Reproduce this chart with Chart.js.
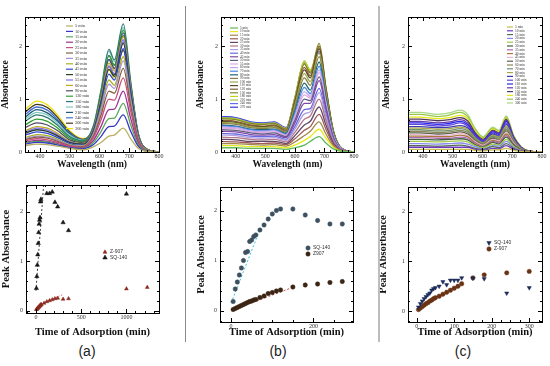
<!DOCTYPE html>
<html lang="en">
<head>
<meta charset="UTF-8">
<title>Absorbance spectra and peak absorbance vs time</title>
<script src="https://cdn.jsdelivr.net/npm/chart.js"></script>
<style>
  body { margin: 0; background: #fff; }
  #fig { position: relative; width: 550px; height: 366px; overflow: hidden; }
  #fig canvas { position: absolute; }
  .sep { position: absolute; top: 6px; height: 336px; }
  .lab { position: absolute; top: 343px; width: 40px; margin-left: -20px; text-align: center;
         font: 14px "Liberation Sans", Arial, sans-serif; color: #222; }
</style>
</head>
<body>
<div id="fig">
  <canvas id="ta" style="left:0;top:0" width="180" height="170"></canvas>
  <canvas id="tb" style="left:195px;top:0" width="175" height="170"></canvas>
  <canvas id="tc" style="left:381px;top:0" width="169" height="170"></canvas>
  <canvas id="ba" style="left:0;top:172px" width="180" height="167"></canvas>
  <canvas id="bb" style="left:195px;top:172px" width="175" height="167"></canvas>
  <canvas id="bc" style="left:377px;top:172px" width="173" height="167"></canvas>
  <div class="sep" style="left:185px;width:1px;background:#8a8a8a"></div>
  <div class="sep" style="left:378px;width:2px;background:#bdbdbd"></div>
  <div class="lab" style="left:87px">(a)</div>
  <div class="lab" style="left:278px">(b)</div>
  <div class="lab" style="left:463px">(c)</div>
</div>
<script>
// ---- spectra (a) ----
const wlA = [350, 390, 425, 460, 500, 545, 580, 605, 632, 650, 680, 705, 730, 760, 800];
const timeA = ['5 min', '10 min', '15 min', '20 min', '25 min', '30 min', '35 min', '40 min', '45 min', '50 min',
  '55 min', '60 min', '90 min', '120 min', '150 min', '180 min', '210 min', '240 min', '300 min', '360 min'];
const absA = [
  [.12, .15, .14, .11, .07, .04, .10, .18, .30, .32, .45, .25, .07, .01, 0],
  [.15, .18, .17, .13, .08, .06, .14, .29, .48, .49, .70, .39, .11, .01, 0],
  [.17, .20, .19, .14, .08, .07, .18, .38, .63, .64, .92, .51, .14, .02, 0],
  [.18, .22, .20, .16, .09, .08, .22, .48, .80, .81, 1.15, .63, .17, .02, 0],
  [.21, .25, .23, .18, .11, .09, .27, .60, 1.0, .98, 1.40, .77, .21, .03, 0],
  [.23, .28, .26, .20, .12, .10, .30, .69, 1.15, 1.11, 1.58, .87, .24, .03, 0],
  [.25, .30, .28, .22, .13, .11, .33, .77, 1.28, 1.20, 1.72, .95, .26, .03, 0],
  [.27, .33, .31, .24, .14, .12, .35, .82, 1.36, 1.26, 1.80, .99, .27, .04, 0],
  [.32, .38, .35, .27, .16, .13, .38, .88, 1.47, 1.36, 1.95, 1.07, .29, .04, 0],
  [.35, .42, .39, .30, .18, .15, .40, .94, 1.56, 1.43, 2.05, 1.13, .31, .04, 0],
  [.37, .45, .42, .32, .19, .15, .42, .97, 1.62, 1.48, 2.12, 1.17, .32, .04, 0],
  [.40, .48, .45, .35, .20, .16, .43, 1.01, 1.68, 1.53, 2.18, 1.20, .33, .04, 0],
  [.46, .55, .51, .40, .23, .18, .45, 1.05, 1.75, 1.58, 2.25, 1.24, .34, .05, 0],
  [.51, .62, .58, .45, .26, .19, .47, 1.09, 1.82, 1.64, 2.30, 1.27, .35, .05, 0],
  [.58, .70, .65, .50, .29, .21, .50, 1.16, 1.94, 1.74, 2.42, 1.33, .36, .05, 0],
  [.62, .75, .70, .54, .32, .22, .49, 1.14, 1.90, 1.71, 2.35, 1.29, .35, .05, 0],
  [.66, .80, .74, .58, .34, .22, .47, 1.09, 1.82, 1.64, 2.20, 1.21, .33, .04, 0],
  [.71, .85, .79, .61, .36, .23, .46, 1.04, 1.74, 1.57, 2.08, 1.14, .31, .04, 0],
  [.75, .90, .84, .65, .38, .24, .44, .97, 1.62, 1.46, 1.92, 1.06, .29, .04, 0],
  [.80, .96, .89, .69, .40, .25, .42, .93, 1.55, 1.40, 1.80, .99, .27, .04, 0]
];

// ---- spectra (b) ----
const wlB = [350, 400, 450, 490, 530, 570, 600, 632, 652, 682, 705, 730, 760, 800];
const timeB = ['5 min', '10 min', '15 min', '20 min', '25 min', '30 min', '35 min', '40 min', '45 min', '50 min',
  '55 min', '60 min', '70 min', '80 min', '90 min', '100 min', '110 min', '120 min', '150 min', '180 min',
  '210 min', '240 min', '270 min'];
const absB = [
  [.08, .08, .07, .07, .07, .05, .08, .13, .20, .29, .17, .06, .01, 0],
  [.12, .12, .10, .10, .10, .08, .13, .22, .29, .43, .26, .09, .01, 0],
  [.16, .16, .14, .13, .14, .11, .19, .31, .39, .57, .34, .11, .02, 0],
  [.20, .19, .17, .16, .17, .14, .25, .41, .48, .71, .43, .14, .02, 0],
  [.24, .23, .20, .20, .20, .16, .31, .51, .58, .85, .51, .17, .03, 0],
  [.28, .27, .24, .23, .24, .19, .37, .62, .68, 1.0, .60, .20, .03, 0],
  [.32, .31, .27, .26, .27, .22, .43, .72, .76, 1.12, .67, .22, .03, 0],
  [.35, .34, .30, .29, .30, .24, .48, .80, .82, 1.20, .72, .24, .04, 0],
  [.39, .38, .33, .32, .33, .27, .55, .92, .92, 1.35, .81, .27, .04, 0],
  [.42, .41, .36, .34, .36, .29, .60, 1.0, .97, 1.42, .85, .28, .04, 0],
  [.45, .44, .38, .37, .38, .31, .65, 1.08, 1.02, 1.50, .90, .30, .05, 0],
  [.47, .46, .40, .39, .40, .32, .68, 1.14, 1.05, 1.55, .93, .31, .05, 0],
  [.49, .48, .42, .40, .42, .33, .73, 1.22, 1.10, 1.62, .97, .32, .05, 0],
  [.51, .49, .43, .42, .43, .35, .78, 1.30, 1.17, 1.70, 1.02, .34, .05, 0],
  [.54, .52, .46, .44, .46, .37, .84, 1.40, 1.26, 1.80, 1.08, .36, .05, 0],
  [.56, .54, .48, .46, .48, .38, .89, 1.48, 1.33, 1.88, 1.13, .38, .06, 0],
  [.58, .56, .49, .48, .49, .39, .93, 1.55, 1.40, 1.95, 1.17, .39, .06, 0],
  [.60, .58, .51, .49, .51, .41, .96, 1.60, 1.44, 2.0, 1.20, .40, .06, 0],
  [.63, .61, .54, .52, .54, .43, 1.0, 1.66, 1.49, 2.05, 1.23, .41, .06, 0],
  [.64, .62, .54, .52, .54, .44, 1.02, 1.70, 1.53, 2.0, 1.20, .40, .06, 0],
  [.65, .63, .55, .53, .55, .44, 1.03, 1.72, 1.55, 1.97, 1.18, .39, .06, 0],
  [.66, .64, .56, .54, .56, .45, 1.01, 1.68, 1.51, 1.90, 1.14, .38, .06, 0],
  [.67, .65, .57, .55, .57, .46, 1.02, 1.70, 1.53, 1.88, 1.13, .38, .06, 0]
];

// ---- spectra (c) ----
const wlC = [350, 390, 450, 490, 525, 550, 575, 602, 635, 655, 680, 705, 730, 760, 800];
const timeC = ['5 min', '10 min', '15 min', '20 min', '25 min', '30 min', '35 min', '40 min', '45 min', '50 min',
  '60 min', '70 min', '80 min', '90 min', '100 min', '110 min', '120 min', '150 min', '180 min', '240 min', '300 min'];
const absC = [
  [.05, .05, .05, .05, .05, .05, .03, .02, .04, .04, .07, .03, .01, 0, 0],
  [.09, .09, .09, .09, .09, .09, .05, .03, .07, .06, .12, .05, .02, 0, 0],
  [.12, .12, .11, .12, .13, .11, .07, .05, .10, .08, .16, .07, .02, 0, 0],
  [.16, .16, .15, .16, .17, .15, .10, .06, .12, .11, .20, .09, .03, 0, 0],
  [.20, .20, .19, .20, .21, .19, .12, .08, .15, .13, .24, .11, .03, 0, 0],
  [.24, .24, .23, .24, .25, .23, .14, .09, .18, .15, .28, .13, .04, .01, 0],
  [.27, .27, .26, .26, .28, .26, .16, .10, .20, .17, .31, .14, .04, .01, 0],
  [.30, .30, .29, .29, .32, .29, .18, .11, .22, .19, .34, .15, .05, .01, 0],
  [.33, .33, .31, .32, .35, .31, .20, .13, .24, .21, .37, .17, .05, .01, 0],
  [.36, .36, .34, .35, .38, .34, .22, .14, .26, .22, .40, .18, .06, .01, 0],
  [.39, .39, .37, .38, .41, .37, .23, .15, .28, .24, .43, .19, .06, .01, 0],
  [.42, .42, .40, .41, .44, .40, .25, .16, .30, .26, .46, .21, .06, .01, 0],
  [.45, .45, .43, .44, .47, .43, .27, .17, .32, .28, .49, .22, .07, .01, 0],
  [.48, .48, .46, .47, .50, .46, .29, .18, .34, .29, .52, .23, .07, .01, 0],
  [.52, .52, .49, .51, .55, .49, .31, .20, .36, .31, .55, .25, .08, .01, 0],
  [.55, .55, .52, .54, .58, .52, .33, .21, .38, .33, .58, .26, .08, .01, 0],
  [.58, .58, .55, .57, .61, .55, .35, .22, .40, .35, .60, .27, .08, .01, 0],
  [.62, .62, .59, .61, .65, .59, .37, .24, .41, .36, .62, .28, .09, .01, 0],
  [.66, .66, .63, .65, .69, .63, .40, .25, .43, .38, .64, .29, .09, .01, 0],
  [.71, .71, .67, .70, .75, .67, .43, .27, .45, .39, .66, .30, .09, .01, 0],
  [.75, .75, .71, .74, .79, .71, .45, .29, .47, .41, .68, .31, .10, .01, 0]
];

// ---- peak absorbance vs time ----
const tSqA = [5, 10, 15, 20, 25, 30, 35, 40, 45, 50, 55, 120, 150, 180, 210, 240, 300, 360, 1000];
const sqA = [.45, .69, .92, 1.13, 1.36, 1.58, 1.75, 1.83, 1.88, 2.2, 2.25, 2.37, 2.37, 2.4, 2.19, 2.1, 1.78, 1.62, 2.36];
const tZA = [5, 10, 15, 20, 25, 30, 35, 40, 45, 50, 55, 60, 90, 120, 150, 180, 210, 240, 300, 360, 1000, 1230];
const zA = [.02, .03, .04, .05, .06, .07, .08, .09, .10, .11, .12, .12, .15, .18, .20, .22, .24, .25, .23, .24, .44, .47];
const fitSqAt = [0, 85], fitSqAv = [.4, 2.55];
const fitZAt = [0, 50, 100, 200, 310], fitZAv = [0, .1, .16, .25, .33];

const tB = [5, 10, 15, 20, 25, 30, 35, 40, 45, 50, 55, 60, 70, 80, 90, 100, 110, 120, 150, 180, 210, 240, 270];
const sqB = [.18, .43, .57, .71, .85, 1.0, 1.16, 1.18, 1.38, 1.41, 1.48, 1.51, 1.61, 1.71, 1.83, 1.93, 2.0, 2.03, 2.03, 1.91, 1.8, 1.73, 1.73];
const zB = [.02, .04, .06, .08, .1, .12, .14, .16, .18, .19, .21, .22, .26, .29, .34, .36, .39, .41, .47, .51, .53, .56, .58];
const fitSqBt = [0, 70], fitSqBv = [.15, 1.62];
const fitZBt = [0, 155], fitZBv = [0, .48];

const tC = [5, 10, 15, 20, 25, 30, 35, 40, 45, 50, 60, 70, 80, 90, 100, 110, 120, 150, 180, 240, 300];
const sqC = [.08, .15, .2, .25, .29, .33, .36, .42, .45, .47, .5, .59, .53, .62, .62, .62, .67, .66, .65, .36, .47];
const zC = [.03, .06, .09, .12, .15, .17, .2, .22, .25, .27, .3, .34, .38, .42, .46, .5, .55, .67, .73, .77, .8];
const fitSqCt = [3, 42], fitSqCv = [.05, .46];
const fitZCt = [3, 125], fitZCv = [.02, .6];

// tick labels
const wlTicks = [400, 500, 600, 700, 800];
const absTicks = [0, 1, 2];
const timeTicksA = [0, 500, 1000];
const timeTicksB = [0, 200];
const timeTicksC = [0, 100, 200, 300];

// line colours
const palA = ['#b8b060', '#3838c8', '#58a858', '#a03090', '#c85078', '#806040', '#a890d8', '#a8b020', '#3048d0', '#284028',
  '#8070f0', '#c0a820', '#505060', '#30a030', '#2f7a70', '#80c8c0', '#205878', '#4870d0', '#403818', '#f0e010'];
const palB = ['#60b860', '#e8e820', '#a08848', '#a05858', '#604868', '#b07888', '#b0a0e0', '#6868e0', '#8048a8', '#606080',
  '#e0a8e0', '#c0a8f0', '#4888e0', '#206878', '#888048', '#a0a848', '#604828', '#886038', '#808828', '#c8d020',
  '#a0c848', '#6070e8', '#3838d8'];
const palC = ['#c8c048', '#7038c0', '#507050', '#8888f0', '#a0c848', '#406040', '#b068b0', '#a87838', '#e8b8d8', '#606048',
  '#888858', '#709070', '#a8a848', '#4038b0', '#6048d8', '#2828f0', '#6838a8', '#503860', '#e8e818', '#98c848', '#a8d888'];

const serif = '"Liberation Serif", "Times New Roman", serif';
const sans = '"Liberation Sans", Arial, sans-serif';

// box with inward ticks on all four sides
const frame = {
  id: 'frame',
  afterDraw(chart, args, o) {
    const { ctx, chartArea: c, scales } = chart;
    ctx.save();
    ctx.strokeStyle = '#000';
    ctx.lineWidth = 1;
    ctx.beginPath();
    for (const id of ['x', 'y']) {
      const s = scales[id];
      const put = (v, len) => {
        const p = Math.round(s.getPixelForValue(v)) + 0.5;
        if (id === 'x') {
          ctx.moveTo(p, c.bottom); ctx.lineTo(p, c.bottom - len);
          ctx.moveTo(p, c.top); ctx.lineTo(p, c.top + len);
        } else {
          ctx.moveTo(c.left, p); ctx.lineTo(c.left + len, p);
          ctx.moveTo(c.right, p); ctx.lineTo(c.right - len, p);
        }
      };
      const step = o[id];
      for (let k = Math.ceil(s.min / step); k * step <= s.max + 1e-9; k++) put(k * step, 2);
      s.ticks.forEach(t => put(t.value, 4));
    }
    ctx.stroke();
    ctx.strokeRect(Math.round(c.left) + 0.5, Math.round(c.top) + 0.5, Math.round(c.width), Math.round(c.height));
    ctx.restore();
  }
};

function marker(ctx, d, x, y) {
  const r = d.pointRadius;
  ctx.fillStyle = d.backgroundColor;
  ctx.strokeStyle = d.borderColor;
  ctx.lineWidth = 0.5;
  ctx.beginPath();
  if (d.pointStyle === 'triangle') {
    const s = d.rotation ? -1 : 1;
    ctx.moveTo(x, y - s * r);
    ctx.lineTo(x + r * 0.9, y + s * r * 0.6);
    ctx.lineTo(x - r * 0.9, y + s * r * 0.6);
    ctx.closePath();
  } else {
    ctx.arc(x, y, r, 0, Math.PI * 2);
  }
  ctx.fill();
  ctx.stroke();
}

// small legend drawn inside the plot
const key = {
  id: 'key',
  afterDatasetsDraw(chart, args, o) {
    const ctx = chart.ctx;
    ctx.save();
    ctx.font = o.size + 'px ' + o.family;
    ctx.textBaseline = 'middle';
    let row = 0;
    chart.data.datasets.forEach(d => {
      if (!d.label) return;
      const y = o.y + row * o.dy;
      row++;
      if (o.line) {
        ctx.strokeStyle = d.borderColor;
        ctx.lineWidth = 1.2;
        ctx.beginPath();
        ctx.moveTo(o.x, y);
        ctx.lineTo(o.x + o.line, y);
        ctx.stroke();
      } else {
        marker(ctx, d, o.x, y);
      }
      ctx.fillStyle = o.color;
      ctx.fillText(d.label, o.x + o.gap, y);
    });
    ctx.restore();
  }
};

function axis(s, fit) {
  return {
    type: 'linear', min: s.min, max: s.max,
    afterBuildTicks: sc => { sc.ticks = s.ticks.map(v => ({ value: v })); },
    afterFit: fit,
    grid: { display: false, drawTicks: false, tickLength: 0 },
    border: { display: false },
    ticks: { padding: s.pad, color: '#333', autoSkip: false, maxRotation: 0,
             font: { family: serif, size: 6 }, callback: v => String(v) },
    title: { display: true, text: s.title, color: '#111', padding: s.tpad,
             font: { family: serif, size: s.size, weight: 'bold' } }
  };
}

function options(g, xs, ys, k) {
  return {
    responsive: false, animation: false, events: [],
    layout: { padding: { left: 0, top: g.top, right: g.right, bottom: 0 } },
    plugins: { legend: { display: false }, tooltip: { enabled: false }, frame: { x: xs.minor, y: ys.minor }, key: k },
    scales: {
      x: axis(xs, sc => { sc.height = g.xh; }),
      y: axis(ys, sc => { sc.width = g.yw; })
    }
  };
}

function spectra(id, wl, rows, names, pal, g, k) {
  const xs = { min: 350, max: 800, ticks: wlTicks, minor: 20, title: 'Wavelength (nm)', size: 9.5, pad: 1, tpad: 0 };
  const ys = { min: 0, max: 2.55, ticks: absTicks, minor: 0.2, title: 'Absorbance', size: 9.5, pad: 3, tpad: 0 };
  new Chart(document.getElementById(id), {
    type: 'line',
    data: {
      datasets: rows.map((r, i) => ({
        label: names[i],
        data: r.map((v, j) => ({ x: wl[j], y: v })),
        borderColor: pal[i], borderWidth: 1.3, pointRadius: 0,
        cubicInterpolationMode: 'monotone', fill: false
      }))
    },
    options: options(g, xs, ys, Object.assign({ family: serif, color: '#333', line: 7, gap: 9 }, k)),
    plugins: [frame, key]
  });
}

const pts = (t, v) => t.map((x, i) => ({ x: x, y: v[i] }));
const dots = (label, t, v, style, r, col, rot) => ({
  label: label, data: pts(t, v), pointStyle: style, pointRadius: r, rotation: rot || 0,
  backgroundColor: col, borderColor: col, borderWidth: 0.5, showLine: false
});
const fit = (t, v, col, dash) => ({
  label: '', data: pts(t, v), showLine: true, pointRadius: 0, borderColor: col,
  borderWidth: 1, borderDash: dash, cubicInterpolationMode: 'monotone', fill: false
});

function peaks(id, sets, xs, g, k) {
  const ys = { min: g.ymin, max: g.ymax, ticks: absTicks, minor: 0.2, title: 'Peak Absorbance', size: 10.5, pad: 3, tpad: 0 };
  Object.assign(xs, { title: 'Time of Adsorption (min)', size: 10.5, pad: 1, tpad: 0 });
  new Chart(document.getElementById(id), {
    type: 'scatter',
    data: { datasets: sets },
    options: options(g, xs, ys, Object.assign({ family: sans, color: '#333', size: 5, gap: 5 }, k)),
    plugins: [frame, key]
  });
}

spectra('ta', wlA, absA, timeA, palA, { top: 17, right: 21, xh: 18, yw: 25 }, { x: 66, y: 26, dy: 5.4, size: 4.3 });
spectra('tb', wlB, absB, timeB, palB, { top: 17, right: 16, xh: 18, yw: 26 }, { x: 35, y: 28, dy: 3.6, size: 3.4, line: 8, gap: 10 });
spectra('tc', wlC, absC, timeC, palC, { top: 17, right: 8, xh: 18, yw: 27 }, { x: 126, y: 27, dy: 3.8, size: 3.5, line: 6, gap: 8 });

peaks('ba', [
  dots('Z-907', tZA, zA, 'triangle', 2.2, '#8a2a20'),
  dots('SQ-140', tSqA, sqA, 'triangle', 2.5, '#151515'),
  fit(fitSqAt, fitSqAv, '#404040', [2, 2]),
  fit(fitZAt, fitZAv, '#d83a3a', [1, 2])
], { min: -110, max: 1360, ticks: timeTicksA, minor: 100 },
  { top: 13, right: 21, xh: 26, yw: 26, ymin: -0.05, ymax: 2.54 }, { x: 105, y: 80, dy: 5.5 });

peaks('bb', [
  dots('SQ-140', tB, sqB, 'circle', 2.2, '#3c5060'),
  dots('Z907', tB, zB, 'circle', 2.2, '#3a2414'),
  fit(fitSqBt, fitSqBv, '#30c8d8', [2, 2]),
  fit(fitZBt, fitZBv, '#c84a3a', [2, 2])
], { min: -27, max: 296, ticks: timeTicksB, minor: 50 },
  { top: 15, right: 17, xh: 17, yw: 25, ymin: -0.23, ymax: 2.47 }, { x: 113, y: 76, dy: 6 });

peaks('bc', [
  dots('SQ-140', tC, sqC, 'triangle', 2.4, '#1c2a58', 180),
  dots('Z-907', tC, zC, 'circle', 2.2, '#6a3214'),
  fit(fitSqCt, fitSqCv, '#30c8d8', [2, 2]),
  fit(fitZCt, fitZCv, '#d83a3a', [1, 2])
], { min: -23, max: 334, ticks: timeTicksC, minor: 25 },
  { top: 15, right: 8, xh: 17, yw: 31, ymin: -0.22, ymax: 2.5 }, { x: 112, y: 71, dy: 6 });
</script>
</body>
</html>
